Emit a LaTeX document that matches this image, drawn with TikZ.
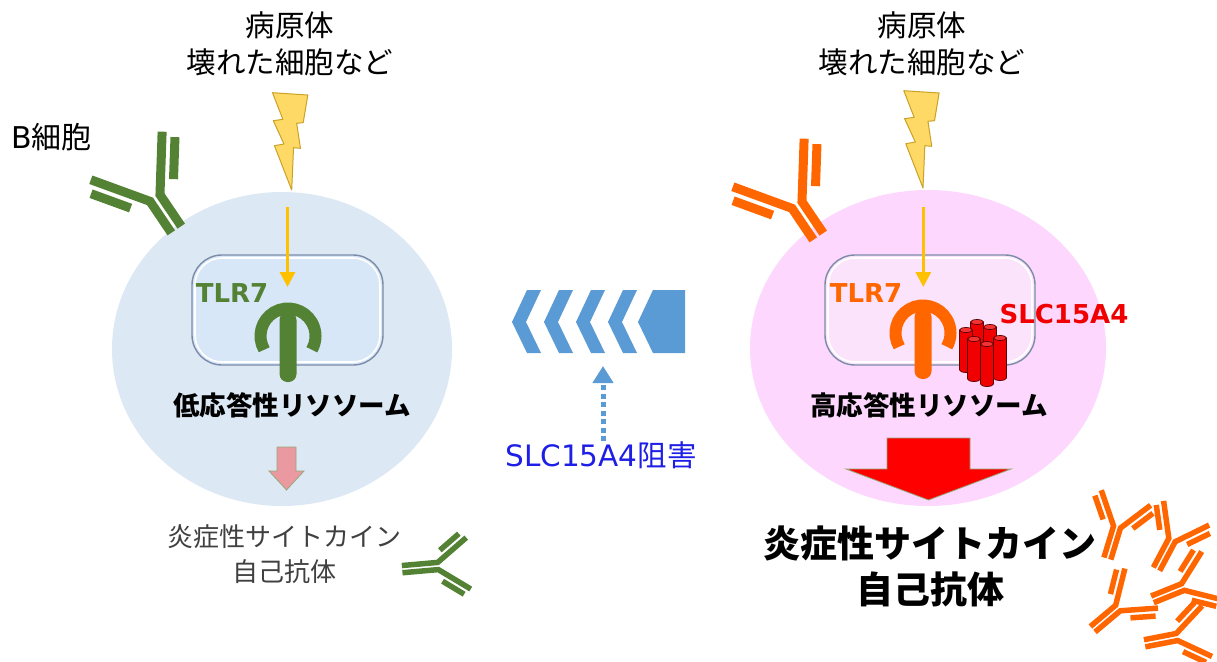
\documentclass[tikz,border=0pt]{standalone}
\usepackage{fontspec}
\setmainfont{Noto Sans CJK JP}
\newfontfamily\latinfont{DejaVu Sans}
\usetikzlibrary{arrows.meta,calc,positioning}

\definecolor{cellblue}{RGB}{221,232,245}
\definecolor{cellpink}{RGB}{253,215,253}
\definecolor{lysoblue}{RGB}{216,231,247}
\definecolor{lysopink}{RGB}{251,228,251}
\definecolor{lysoline}{RGB}{122,140,168}
\definecolor{abgreen}{RGB}{84,130,53}
\definecolor{aborange}{RGB}{255,102,0}
\definecolor{signalgold}{RGB}{255,192,0}
\definecolor{boltfill}{RGB}{255,217,102}
\definecolor{boltline}{RGB}{201,162,39}
\definecolor{chevblue}{RGB}{91,155,213}
\definecolor{slcred}{RGB}{240,0,0}
\definecolor{slcdark}{RGB}{90,0,0}
\definecolor{inhibblue}{RGB}{30,30,230}
\definecolor{pinkarrow}{RGB}{234,153,160}
\definecolor{arrowrim}{RGB}{150,168,120}
\definecolor{softtext}{RGB}{64,64,64}

\begin{document}
\begin{tikzpicture}[x=1pt,y=-1pt,
  lyso/.style={rounded corners=30pt,draw=lysoline,line width=1.4pt},
  sheen/.style={rounded corners=27pt,draw=white,line width=1.6pt},
  signal/.style={draw=signalgold,line width=3pt,-{Triangle[width=15pt,length=15pt]}},
  inhibit/.style={draw=chevblue,line width=5pt,dash pattern=on 5pt off 3.5pt,
    -{Triangle[width=20pt,length=17pt]}},
  flashfill/.style={fill=boltfill,draw=boltline,line width=1pt,line join=round},
  chev/.style={fill=chevblue},
  block/.style={draw=arrowrim,line width=.8pt},
  txt/.style={inner sep=0pt,align=center},
  ab stem/.store in=\abstem, ab stem=38,
  ab/.pic={
    \draw[line cap=butt] (-6,\abstem) -- (-6,0) -- (-43,-51);
    \draw[line cap=butt] (6,\abstem) -- (6,0) -- (43,-51);
    \draw[line cap=butt] (-25.9,-5.3) -- (-50.6,-39.3);
    \draw[line cap=butt] (25.9,-5.3) -- (50.6,-39.3);
  },
  tlr/.pic={
    \fill[rounded corners=8pt] (-8.5,-24) rectangle (8.5,46);
    \draw[line width=12pt,line cap=butt] (150:27.5) arc[start angle=150,end angle=390,radius=27.5];
  },
  flash/.pic={
    \filldraw[flashfill,xscale=1.15] (-16.7,-97.3) -- (14,-95) -- (10,-67.3) -- (4.3,-66.7)
      -- (7.6,-41.7) -- (1.6,-42.3) -- (0,0) -- (-15,-44.3) -- (-6.7,-46)
      -- (-16,-69.3) -- (-7.7,-70.7) -- cycle;
  },
  cyl/.pic={
    \filldraw[fill=slcred,draw=slcdark,line width=.7pt] (-6.5,0) -- (-6.5,40)
      arc[start angle=180,end angle=0,x radius=6.5,y radius=2.5] -- (6.5,0) -- cycle;
    \filldraw[fill=slcred!80!white,draw=slcdark,line width=.7pt] (0,0) ellipse[x radius=6.5,y radius=2.5];
  }]

\useasboundingbox (0,0) rectangle (1217,661);
\fill[white] (0,0) rectangle (1217,661);

% the two cells
\coordinate (cellL) at (282,349);
\coordinate (cellR) at (928,348);
\fill[cellblue] (cellL) ellipse[x radius=170,y radius=157];
\fill[cellpink] (cellR) ellipse[x radius=178,y radius=158];

% B cell receptors on the surface
\pic[color=abgreen,line width=9pt,rotate=34] (abL) at (155,198) {ab};
\pic[color=aborange,line width=9pt,rotate=34] (abR) at (797,205) {ab};

% lysosomes
\fill[lysoblue,rounded corners=30pt] (192,255) rectangle (383,365);
\draw[lyso] (192,255) rectangle (383,365);
\draw[sheen] (195,258) rectangle (380,362);
\fill[lysopink,rounded corners=30pt] (825,255) rectangle (1035,365);
\draw[lyso] (825,255) rectangle (1035,365);
\draw[sheen] (828,258) rectangle (1032,362);

% TLR7
\pic[color=abgreen] (tlrShapeL) at (288,336) {tlr};
\pic[color=aborange] (tlrShapeR) at (923,333) {tlr};
\node[txt,font=\latinfont\bfseries\fontsize{26}{30}\selectfont,text=abgreen] (tlr7L) at (232,293) {TLR7};
\node[txt,font=\latinfont\bfseries\fontsize{26}{30}\selectfont,text=aborange] (tlr7R) at (866,293) {TLR7};

% SLC15A4 transporters
\foreach \cx/\cy in {977/322,990/327,966/330,1000/338,974/339,987/344}
  \pic at (\cx,\cy) {cyl};
\node[txt,font=\latinfont\bfseries\fontsize{26}{30}\selectfont,text=slcred] (slcLbl) at (1064,314) {SLC15A4};

% stimulus
\pic at (291.7,190) {flash};
\pic at (923,188) {flash};
\node[txt,font=\fontsize{29.5}{37}\selectfont] (srcL) at (290,44) {病原体\\壊れた細胞など};
\node[txt,font=\fontsize{29.5}{37}\selectfont] (srcR) at (922,44) {病原体\\壊れた細胞など};
\node[txt,anchor=west,font=\fontsize{30}{34}\selectfont] (bcell) at (11,137) {{\latinfont B}細胞};

\coordinate (sigL) at (287.5,207);
\coordinate (tlrL) at (287.5,287);
\coordinate (sigR) at (923.3,207);
\coordinate (tlrR) at (923.3,287);
\draw[signal] (sigL) -- (tlrL);
\draw[signal] (sigR) -- (tlrR);

\node[txt,font=\bfseries\fontsize{26.5}{30}\selectfont] (lowLyso) at (292,405) {低応答性リソソーム};
\node[txt,font=\bfseries\fontsize{26.5}{30}\selectfont] (highLyso) at (929,405) {高応答性リソソーム};

% output arrows
\filldraw[block,fill=pinkarrow] (277,447) -- (296,447) -- (296,471) -- (304,471)
  -- (286.5,490) -- (269,471) -- (277,471) -- cycle;
\filldraw[block,fill=red] (887,438) -- (970,438) -- (970,469) -- (1011,469)
  -- (928.5,500) -- (846,469) -- (887,469) -- cycle;

\node[txt,text=softtext,font=\fontsize{26}{35}\selectfont] (outL) at (284,554) {炎症性サイトカイン\\自己抗体};
\node[txt,font=\bfseries\fontsize{37}{46}\selectfont] (outR) at (930,566) {炎症性サイトカイン\\自己抗体};

% released antibodies
\pic[color=abgreen,line width=5.5pt,rotate=-85,scale=.6,ab stem=60] at (438,566) {ab};
\foreach \ax/\ay/\rot in {1117/527/-17,1172/540/-28,1183/587/-68,1118/608/-50,1177/637/-79}
  \pic[color=aborange,line width=5.5pt,rotate=\rot,scale=.6,ab stem=55] at (\ax,\ay) {ab};

% chevron arrow towards the low-response state
\foreach \i in {0,...,3} {
  \pgfmathsetmacro\cx{512+32*\i}
  \fill[chev] (\cx,322) -- ++(15,-32) -- ++(14,0) -- ++(-15,32) -- ++(15,31) -- ++(-14,0) -- cycle;
}
\fill[chev] (638,322) -- (653,290) -- (685,290) -- (685,353) -- (653,353) -- cycle;

\node[txt,text=inhibblue,font=\fontsize{29.5}{34}\selectfont] (inhib) at (601,455) {{\latinfont SLC15A4}阻害};
\coordinate (chevBase) at (603,366);
\draw[inhibit] (inhib.north -| chevBase) -- (chevBase);
\end{tikzpicture}
\end{document}
